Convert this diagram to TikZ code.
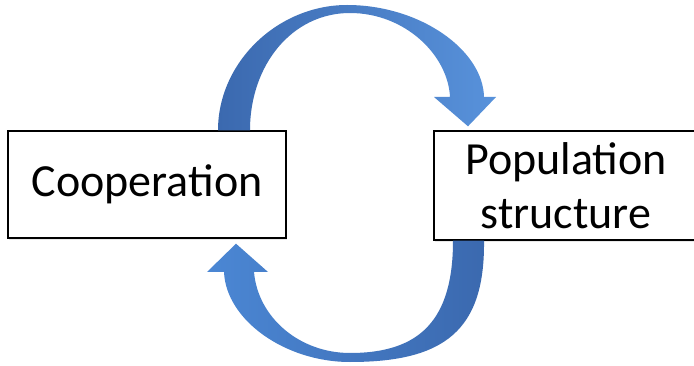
\documentclass[tikz,border=0pt]{standalone}
\usepackage{fontspec}
\setmainfont{Carlito}
\usetikzlibrary{calc,shadows}

\definecolor{loopdark}{HTML}{3B69AF}
\definecolor{loopmid}{HTML}{4378C0}
\definecolor{looplight}{HTML}{5892DB}
\definecolor{looppale}{HTML}{6EA2E4}
\definecolor{loophead}{HTML}{4B87D4}

\begin{document}
\begin{tikzpicture}[x=1pt,y=-1pt,
  box/.style={draw=black, line width=1.4pt, fill=white, align=center,
    inner sep=0pt, font=\fontsize{46}{54}\selectfont,
    drop shadow={opacity=0.18, shadow xshift=1pt, shadow yshift=-2pt}},
  upper loop/.style={draw=none, left color=loopdark, middle color=loopmid, right color=looplight},
  lower loop/.style={draw=none, left color=loophead, middle color=looppale, right color=loopdark}]

\useasboundingbox (0,0) rectangle (694,366);
\clip (0,0) rectangle (694,366);
\fill[white] (0,0) rectangle (694,366);

% the two boxes
\node[box, minimum width=278pt, minimum height=107pt] (coop) at (147,184.5) {Cooperation};
\node[box, minimum width=264pt, minimum height=109pt] (pop) at (566,185.5) {Population\\structure};

% anchor points of the arrows on the box borders
\coordinate (up0) at ($(coop.north)+(71,0)$);   % outer foot of upper arrow
\coordinate (up1) at ($(coop.north)+(103,0)$);  % inner foot of upper arrow
\coordinate (uptip) at ($(pop.north)+(-98,-4)$); % tip pointing at the population box
\coordinate (lo0) at ($(pop.south)+(-113,0)$);  % inner foot of lower arrow
\coordinate (lo1) at ($(pop.south)+(-82,0)$);   % outer foot of lower arrow
\coordinate (lotip) at ($(coop.south)+(89,5)$); % tip pointing at the cooperation box

% upper arrow: cooperation -> population structure
\path[upper loop]
  (up0) .. controls (218,62) and (278,5) .. (347,5)
        .. controls (420,5) and (483,50) .. (484,97)
  -- (496,97) -- (uptip) -- (434,97) -- (450,97)
        .. controls (448,55) and (405,13) .. (350,13)
        .. controls (292,13) and (250,65) .. (up1) -- cycle;

% lower arrow: population structure -> cooperation
\path[lower loop]
  (lo1) .. controls (485,330) and (445,362) .. (350,362)
        .. controls (285,362) and (226,320) .. (224,272)
  -- (207,272) -- (lotip) -- (268,272) -- (254,272)
        .. controls (258,318) and (300,353) .. (350,353)
        .. controls (420,353) and (453,320) .. (lo0) -- cycle;

\end{tikzpicture}
\end{document}
